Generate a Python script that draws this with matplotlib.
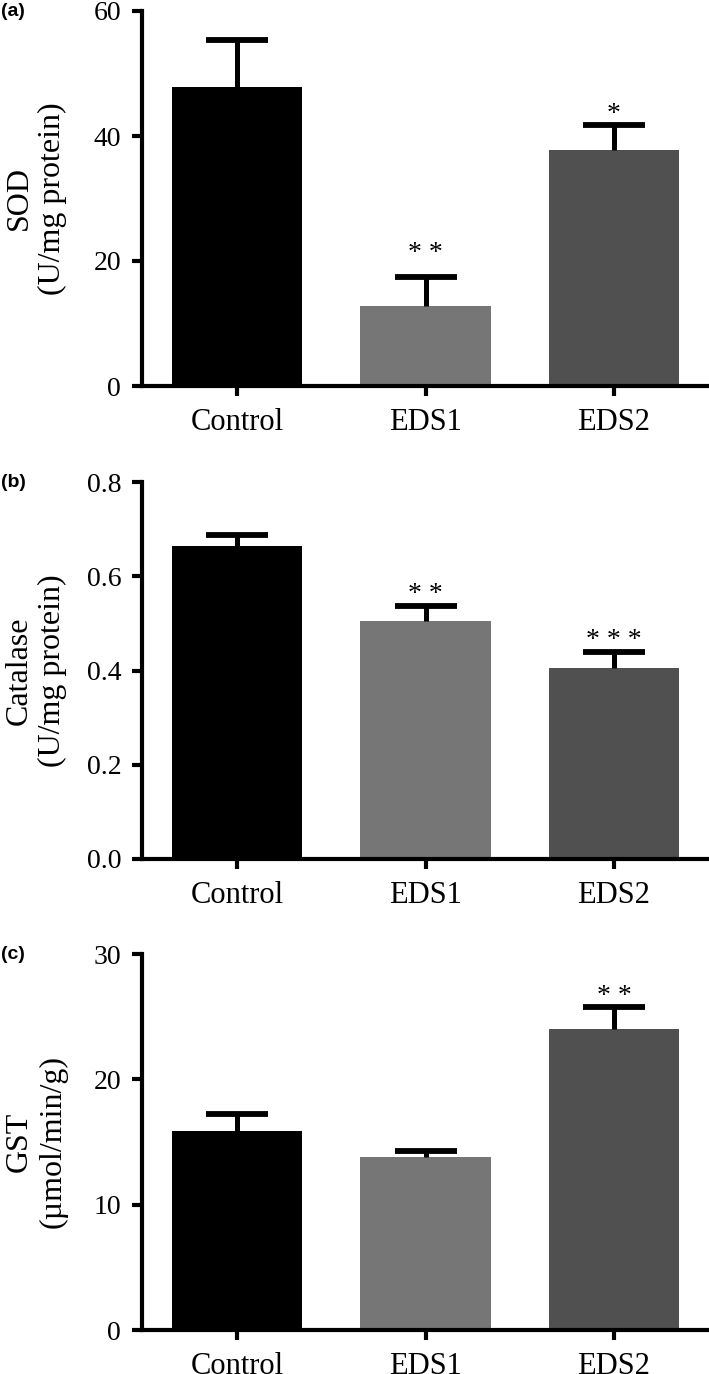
"""Antioxidant enzyme activity in three groups: SOD, catalase and GST bar panels"""
from matplotlib import pyplot as plt
import numpy as np

groups = ['Control', 'EDS1', 'EDS2']
bar_colors = ['#000000', '#767676', '#505050']

sod_mean = [47.8, 12.8, 37.8]
sod_err = [7.6, 4.7, 3.9]
sod_stars = ['', '* *', '*']

cat_mean = [0.665, 0.505, 0.405]
cat_err = [0.022, 0.032, 0.035]
cat_stars = ['', '* *', '* * *']

gst_mean = [15.9, 13.8, 24.0]
gst_err = [1.35, 0.5, 1.75]
gst_stars = ['', '', '* *']

panels = [
    ('(a)', 'SOD\n(U/mg protein)', sod_mean, sod_err, sod_stars, [0, 20, 40, 60], ['0', '20', '40', '60']),
    ('(b)', 'Catalase\n(U/mg protein)', cat_mean, cat_err, cat_stars,
     [0, 0.2, 0.4, 0.6, 0.8], ['0.0', '0.2', '0.4', '0.6', '0.8']),
    ('(c)', 'GST\n(\u00b5mol/min/g)', gst_mean, gst_err, gst_stars, [0, 10, 20, 30], ['0', '10', '20', '30']),
]

# layout: axes boxes in figure pixels (top, bottom) and star offsets in points
W, H = 709, 1374
boxes = [(11, 386), (482, 859), (954, 1330)]
star_offsets = [[8, 16.5, 8], [8, 8, 8], [8, 8, 8]]
left_px = 142

plt.rcParams['font.family'] = ['Liberation Serif', 'DejaVu Serif']

fig = plt.figure(figsize=(W / 100, H / 100), dpi=100)

for (tag, ylab, mean, err, stars, yt, ytl), (top, bot), offs in zip(panels, boxes, star_offsets):
    ax = fig.add_axes([left_px / W, 1 - bot / H, 1 - left_px / W, (bot - top) / H])
    x = np.arange(len(groups))
    ax.bar(x, mean, width=0.69, color=bar_colors, zorder=2)

    # upper error bars only
    _, caps, _ = ax.errorbar(x, mean, yerr=[np.zeros(len(err)), err], fmt='none',
                             ecolor='black', elinewidth=3.6, capsize=22, capthick=4.2, zorder=3)
    caps[0].set_visible(False)

    for xi, m, e, s, o in zip(x, mean, err, stars, offs):
        if s:
            ax.annotate(s, (xi, m + e), xytext=(0, o), textcoords='offset points',
                        ha='center', va='center', fontsize=20)

    ax.set_xlim(-0.504, 2.504)
    ax.set_ylim(yt[0], yt[-1])
    ax.set_yticks(yt)
    ax.set_yticklabels(ytl)
    ax.set_xticks(x)
    ax.set_xticklabels(groups)

    for side in ['top', 'right']:
        ax.spines[side].set_visible(False)
    for side in ['left', 'bottom']:
        ax.spines[side].set_linewidth(3)
    ax.tick_params(axis='both', width=3, length=7)
    ax.tick_params(axis='y', pad=8, labelsize=20)
    ax.tick_params(axis='x', pad=9, labelsize=22)

    ymid = 1 - (top + bot) / 2 / H
    fig.text(36 / W, ymid, ylab, rotation=90, ha='center', va='center',
             multialignment='center', fontsize=23, linespacing=1.2)
    fig.text(0.001, 1 - (top - 8) / H, tag, ha='left', va='top',
             fontsize=14, fontweight='bold', family=['Liberation Sans', 'DejaVu Sans'])

fig.savefig('out.png', dpi=100)
